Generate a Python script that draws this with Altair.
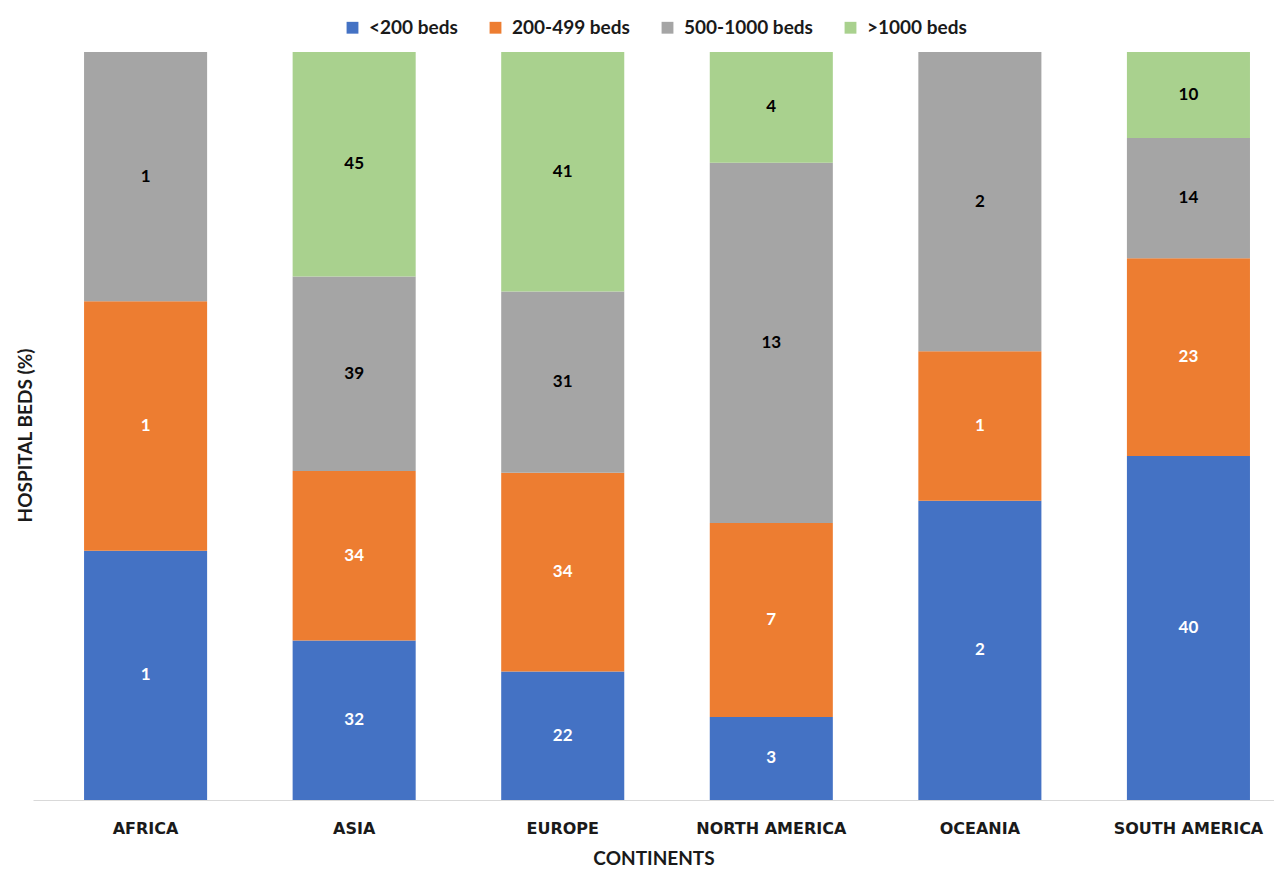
import altair as alt
import pandas as pd

continents = ["AFRICA", "ASIA", "EUROPE", "NORTH AMERICA", "OCEANIA", "SOUTH AMERICA"]
categories = ["<200 beds", "200-499 beds", "500-1000 beds", ">1000 beds"]
colors = ["#4472C4", "#ED7D31", "#A5A5A5", "#A9D18E"]
label_colors = ["white", "white", "black", "black"]

beds_lt200 = [1, 32, 22, 3, 2, 40]
beds_200_499 = [1, 34, 34, 7, 1, 23]
beds_500_1000 = [1, 39, 31, 13, 2, 14]
beds_gt1000 = [0, 45, 41, 4, 0, 10]

series = [beds_lt200, beds_200_499, beds_500_1000, beds_gt1000]
rows = []
for ci, cat in enumerate(categories):
    for ki, cont in enumerate(continents):
        v = series[ci][ki]
        if v > 0:
            rows.append({"continent": cont, "category": cat, "order": ci, "value": v,
                         "lblcolor": label_colors[ci]})
df = pd.DataFrame(rows)

base = alt.Chart(df).transform_stack(
    stack="value", groupby=["continent"], as_=["y0", "y1"], offset="normalize",
    sort=[alt.SortField("order", order="ascending")]
).transform_calculate(mid="(datum.y0 + datum.y1) / 2")

xenc = alt.X("continent:N", sort=continents,
             scale=alt.Scale(paddingInner=0.41, paddingOuter=0.18, align=0.68),
             axis=alt.Axis(title="CONTINENTS", labelAngle=0, ticks=False, domainColor="#d9d9d9",
                           domainWidth=1, labelPadding=20, labelFont="DejaVu Sans", labelFontSize=16,
                           labelFontWeight="bold", labelColor="#1a1a1a", titleFont="Lato",
                           titleFontSize=19, titleFontWeight="bold", titleColor="#1a1a1a",
                           titlePadding=13))

bars = base.mark_bar().encode(
    x=xenc,
    y=alt.Y("y0:Q", scale=alt.Scale(domain=[0, 1], nice=False),
            axis=alt.Axis(title="HOSPITAL BEDS (%)", labels=False, ticks=False, domain=False,
                          grid=False, titleFont="Lato", titleFontSize=19, titleFontWeight="bold",
                          titleColor="#1a1a1a", titleAngle=-90, titleX=-8, titleY=383,
                          titleAlign="center", titleBaseline="middle")),
    y2="y1:Q",
    color=alt.Color("category:N", sort=categories,
                    scale=alt.Scale(domain=categories, range=colors),
                    legend=alt.Legend(title=None, orient="none", direction="horizontal",
                                      legendX=310, legendY=-34, symbolType="square",
                                      symbolSize=140, symbolStrokeWidth=0, labelFont="Lato",
                                      labelFontSize=19, labelFontWeight="bold",
                                      labelColor="#1a1a1a", columnPadding=28,
                                      symbolOffset=0, labelOffset=7)),
)

texts = base.mark_text(font="Lato", fontSize=17, fontWeight="bold").encode(
    x=alt.X("continent:N", sort=continents),
    y=alt.Y("mid:Q"),
    text=alt.Text("value:Q"),
    color=alt.Color("lblcolor:N", scale=None),
)

chart = alt.layer(bars, texts).properties(
    width=1241, height=748,
    autosize=alt.AutoSizeParams(type="none"),
    padding={"left": 25, "top": 44, "right": 0, "bottom": 69},
).configure_view(stroke=None).configure_axis(grid=False)

chart.save("out.html", embed_options={"renderer": "svg", "actions": False})
